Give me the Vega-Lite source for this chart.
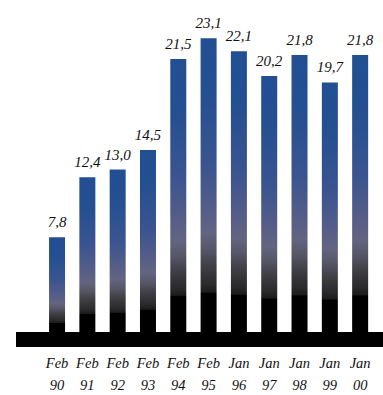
{
  "$schema": "https://vega.github.io/schema/vega-lite/v6.json",
  "width": 367,
  "height": 347,
  "autosize": "none",
  "padding": {"left": 16, "top": 0, "right": 0, "bottom": 48},
  "background": "white",
  "config": {
    "view": {"stroke": null},
    "locale": {"number": {"decimal": ",", "thousands": ".", "grouping": [3], "currency": ["", " €"]}}
  },
  "data": {
    "values": [
      {"period": "Feb 90", "value": 7.8},
      {"period": "Feb 91", "value": 12.4},
      {"period": "Feb 92", "value": 13.0},
      {"period": "Feb 93", "value": 14.5},
      {"period": "Feb 94", "value": 21.5},
      {"period": "Feb 95", "value": 23.1},
      {"period": "Jan 96", "value": 22.1},
      {"period": "Jan 97", "value": 20.2},
      {"period": "Jan 98", "value": 21.8},
      {"period": "Jan 99", "value": 19.7},
      {"period": "Jan 00", "value": 21.8}
    ]
  },
  "layer": [
    {
      "mark": {
        "type": "bar",
        "color": {
          "gradient": "linear",
          "x1": 0, "y1": 0, "x2": 0, "y2": 1,
          "stops": [
            {"offset": 0, "color": "#224f93"},
            {"offset": 0.18, "color": "#244f91"},
            {"offset": 0.42, "color": "#3a5490"},
            {"offset": 0.57, "color": "#555d88"},
            {"offset": 0.65, "color": "#636480"},
            {"offset": 0.7, "color": "#58586a"},
            {"offset": 0.76, "color": "#3e3e44"},
            {"offset": 0.82, "color": "#2a2a2c"},
            {"offset": 0.845, "color": "#1c1c1c"},
            {"offset": 0.85, "color": "#000000"},
            {"offset": 1, "color": "#000000"}
          ]
        }
      },
      "encoding": {
        "x": {
          "field": "period", "type": "nominal", "sort": null,
          "scale": {"paddingInner": 0.472, "paddingOuter": 0.79, "align": 0.69},
          "axis": {
            "title": null, "domain": false, "ticks": false, "labelAngle": 0,
            "labelExpr": "split(datum.label, ' ')",
            "labelFont": "Liberation Serif", "labelFontStyle": "italic",
            "labelFontSize": 14.5, "labelColor": "#111111",
            "labelPadding": 9, "labelLineHeight": 22
          }
        },
        "y": {
          "field": "value", "type": "quantitative",
          "scale": {"domain": [-0.65, 26.04], "nice": false, "zero": false},
          "axis": null
        },
        "y2": {"datum": 0}
      }
    },
    {
      "mark": {
        "type": "text", "baseline": "alphabetic", "dy": -10,
        "font": "Liberation Serif", "fontStyle": "italic", "fontSize": 15, "color": "#111111"
      },
      "encoding": {
        "x": {"field": "period", "type": "nominal", "sort": null},
        "y": {"field": "value", "type": "quantitative"},
        "text": {"field": "value", "type": "quantitative", "format": ".1f"}
      }
    },
    {
      "data": {"values": [{"base": "axis"}]},
      "mark": {"type": "rect", "color": "#000000"},
      "encoding": {
        "y": {"datum": -0.65},
        "y2": {"datum": 0.5}
      }
    }
  ]
}
